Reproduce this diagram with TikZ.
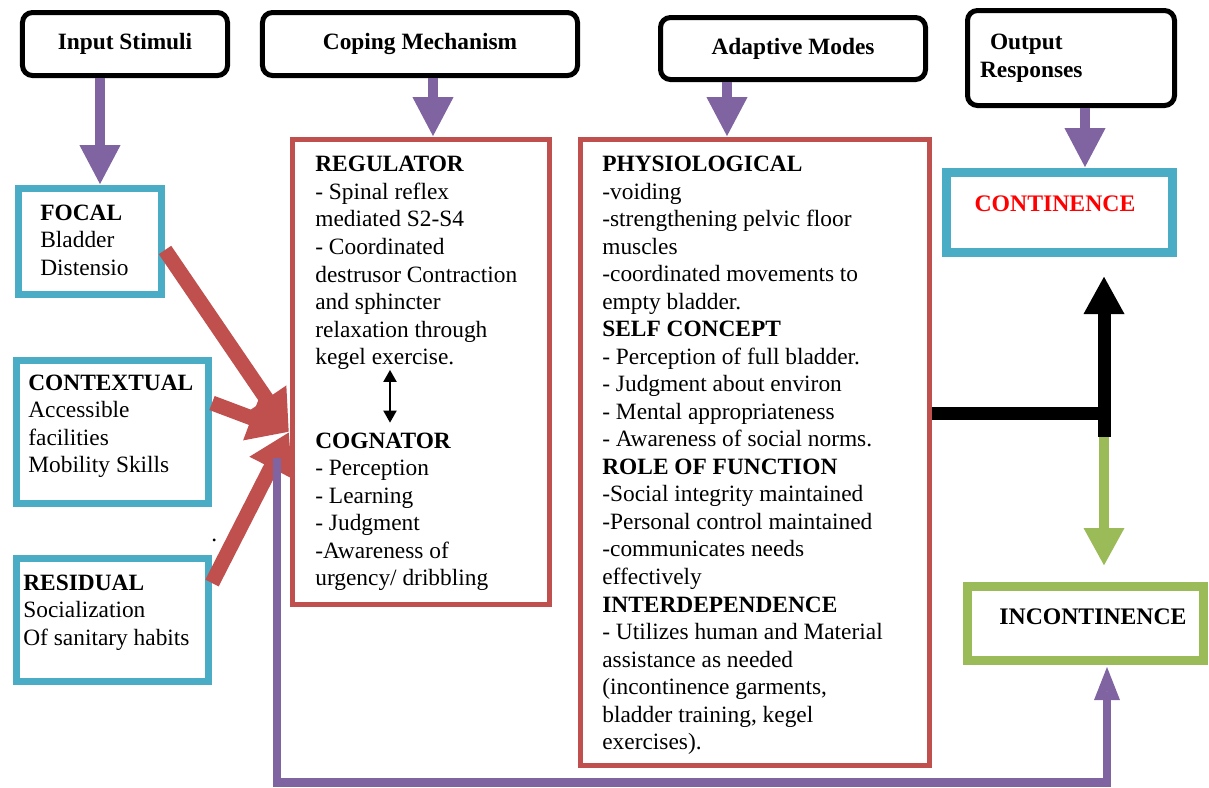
\documentclass[tikz,border=0pt]{standalone}
\usepackage{fontspec}
\setmainfont{Liberation Serif}
\usetikzlibrary{arrows.meta}

\definecolor{roypurple}{HTML}{8064A2}
\definecolor{roylilac}{HTML}{A793C8}
\definecolor{royred}{HTML}{C0504D}
\definecolor{roycyan}{HTML}{4BACC6}
\definecolor{roygreen}{HTML}{9BBB59}

\tikzset{
  headbox/.style={shape=rectangle, rounded corners=2mm, draw=black, line width=1mm,
    fill=white, font=\fontsize{13.3}{15.65}\selectfont\bfseries},
  stimbox/.style={shape=rectangle, draw=roycyan, line width=1.4mm},
  modebox/.style={shape=rectangle, draw=royred, line width=1mm},
  lines/.style={anchor=base west, align=left, inner sep=0pt,
    font=\fontsize{13.3}{15.65}\selectfont},
  downarrow/.style={draw=roypurple, line width=2mm, -{Triangle[length=8mm, width=7.6mm]}},
  inarrow/.style={draw=royred, line width=3mm, -{Triangle[length=8mm, width=9mm]}},
}

\begin{document}
\begin{tikzpicture}[x=0.2mm, y=-0.2mm]
\useasboundingbox (0,0) rectangle (1209,787);

              % headings
\node[headbox, minimum width=41mm, minimum height=12.6mm] at (125, 44)
(input) {Input Stimuli};
\node[headbox, minimum width=63mm, minimum height=12.6mm] at (420, 44)
(coping) {Coping Mechanism};
\node[headbox, minimum width=53mm, minimum height=12.4mm] at (793, 48.5)
(adaptive) {Adaptive Modes};
\node[headbox, minimum height=19mm, align=left, text width=36.4mm, inner xsep=2.5mm] at (1071, 58)
(output) {\hspace*{2mm}Output\\Responses};

              % stimuli (text placed by its last baseline)
\node[stimbox, minimum width=28.6mm, minimum height=21.2mm] at (90, 241.5)
(focal) {};
\node[stimbox, minimum width=38.4mm, minimum height=28.6mm] at (112.5, 432)
(context) {};
\node[stimbox, minimum width=38.4mm, minimum height=24.6mm] at (112.5, 620)
(residual) {};

\node[lines] at (40, 275)
(focaltext) {\textbf{FOCAL}\\Bladder\\Distensio};
\node[lines] at (28, 472.5)
(contexttext) {\textbf{CONTEXTUAL}\\Accessible\\facilities\\Mobility Skills};
\node[lines] at (23, 645)
(residualtext) {\textbf{RESIDUAL}\\Socialization\\Of sanitary habits};
\node[lines] at (211, 541)
(dot) {.};

              % coping mechanism and modes
\node[modebox, minimum width=51.4mm, minimum height=93mm] at (421, 372)
(regulator) {};
\node[modebox, minimum width=69.8mm, minimum height=125.2mm] at (755, 452.5)
(modes) {};

\node[lines] at (315, 364.5)
(regtext) {\textbf{REGULATOR}\\- Spinal reflex\\mediated S2-S4\\- Coordinated\\destrusor Contraction\\and sphincter\\relaxation through\\kegel exercise.};
\node[lines] at (315, 585.5)
(cogtext) {\textbf{COGNATOR}\\- Perception\\- Learning\\- Judgment\\-Awareness of\\urgency/ dribbling};

\node[lines] at (602, 749.5)
(modetext) {\textbf{PHYSIOLOGICAL}\\-voiding\\-strengthening pelvic floor\\muscles\\-coordinated movements to\\empty bladder.\\
\textbf{SELF CONCEPT}\\- Perception of full bladder.\\- Judgment about environ\\- Mental appropriateness\\- Awareness of social norms.\\
\textbf{ROLE OF FUNCTION}\\-Social integrity maintained\\-Personal control maintained\\-communicates needs\\effectively\\
\textbf{INTERDEPENDENCE}\\- Utilizes human and Material\\assistance as needed\\(incontinence garments,\\bladder training, kegel\\exercises).};

              % responses
\node[draw=roycyan, line width=1.6mm, minimum width=45.4mm, minimum height=16.2mm] at (1059.5, 212.5)
(continence) {};
\draw[roycyan, line width=0.5mm]
  ([shift={(1.6mm,-1.6mm)}]continence.north west) rectangle ([shift={(-1.6mm,1.6mm)}]continence.south east);
\node[font=\fontsize{13.5}{16}\selectfont\bfseries, text=red] at (1055, 204)
(contlabel) {CONTINENCE};

\node[draw=roygreen, line width=1.6mm, minimum width=47.4mm, minimum height=15mm] at (1085.5, 623.5)
(incontinence) {};
\draw[roygreen, line width=0.5mm]
  ([shift={(1.6mm,-1.6mm)}]incontinence.north west) rectangle ([shift={(-1.6mm,1.6mm)}]incontinence.south east);
\node[font=\fontsize{13.5}{16}\selectfont\bfseries] at (1093, 617)
(incontlabel) {INCONTINENCE};

              % arrows
\draw[downarrow] (input.south -| 100,0) -- (focal.north -| 100,0);
\draw[downarrow] (coping.south -| 433,0) -- (regulator.north -| 433,0);
\draw[downarrow] (adaptive.south -| 727,0) -- (modes.north -| 727,0);
\draw[downarrow] (output.south -| 1085,0) -- (continence.north -| 1085,0);

\coordinate (hub) at (289, 432);
\draw[inarrow] (focal.east |- 0,250) -- (hub);
\draw[inarrow] (context.east |- 0,403) -- (hub);
\draw[inarrow] (residual.east |- 0,583) -- (hub);

\coordinate (updown) at (390, 0);
\draw[line width=0.4mm, {Triangle[length=2.4mm, width=2.6mm]}-{Triangle[length=2.4mm, width=2.6mm]}]
  (regtext.south -| updown) -- ([yshift=1.9mm]cogtext.north -| updown);

\coordinate (junction) at (1104, 413);
\coordinate (split) at (1104, 437);
\draw[line width=2.6mm]
  (modes.east |- junction) -- ([xshift=1.3mm]junction);
\draw[line width=2.6mm, -{Triangle[length=7.6mm, width=7.6mm]}]
  (split) -- ([yshift=-3.8mm]continence.south -| split);
\draw[draw=roygreen, line width=2mm, -{Triangle[length=7.6mm, width=7.6mm]}]
  (split) -- ([yshift=3.2mm]incontinence.north -| split);

\coordinate (loopstart) at (277, 458);
\coordinate (loopend) at (1107, 782.5);
\draw[draw=roypurple, line width=1.7mm, -{Triangle[length=7mm, width=4.6mm, fill=roylilac]}]
  (loopstart) |- (loopend) -- (incontinence.south -| loopend);
\end{tikzpicture}
\end{document}
